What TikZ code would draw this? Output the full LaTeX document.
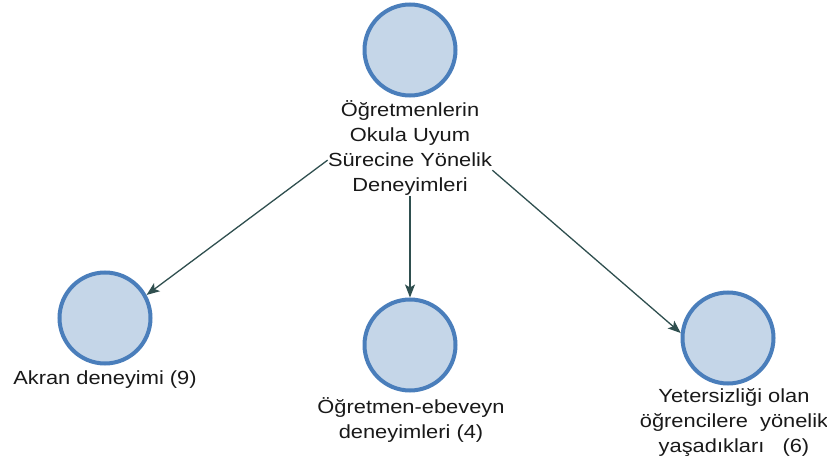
\documentclass[tikz,border=0pt]{standalone}
\usepackage{fontspec}
\setmainfont{Liberation Sans}[FakeStretch=1.15]
\usetikzlibrary{arrows.meta,fit}
\definecolor{cfill}{RGB}{197,214,232}
\definecolor{cdraw}{RGB}{74,126,187}
\definecolor{cedge}{RGB}{47,79,79}
\definecolor{ctext}{RGB}{25,25,25}
\tikzset{
  bub/.style={circle, draw=cdraw, fill=cfill, line width=4pt, minimum size=91pt, inner sep=0pt},
  lbl/.style={align=center, font=\fontsize{19}{25}\selectfont, text=ctext, inner sep=0pt},
  edge/.style={draw=cedge, line width=1.3pt, -{Stealth[length=13pt,width=10pt,inset=3pt]}},
}
\begin{document}
\begin{tikzpicture}[x=1pt,y=-1pt]
\useasboundingbox (0,0) rectangle (827,465);
% top node
\node[bub] (tc) at (410,50) {};
\node[lbl] (tl) at (410,148) {Öğretmenlerin\\Okula Uyum\\Sürecine Yönelik\\Deneyimleri};
\node[fit=(tc)(tl), inner sep=0pt] (top) {};
% children
\node[bub] (ak) at (105,318) {};
\node[lbl] (akl) at (105,380) {Akran deneyimi (9)};
\node[bub] (mid) at (410,345) {};
\node[lbl] (midl) at (411,420) {Öğretmen-ebeveyn\\deneyimleri (4)};
\node[bub] (rt) at (728,338) {};
\node[lbl] (rtl) at (734,423) {Yetersizliği olan\\öğrencilere\ \ yönelik\\yaşadıkları\ \ \ (6)};
% edges
\draw[edge] (top) -- (ak.29);
\draw[edge] (top) -- (mid.90);
\draw[edge] (top) -- (rt.174);
\end{tikzpicture}
\end{document}
